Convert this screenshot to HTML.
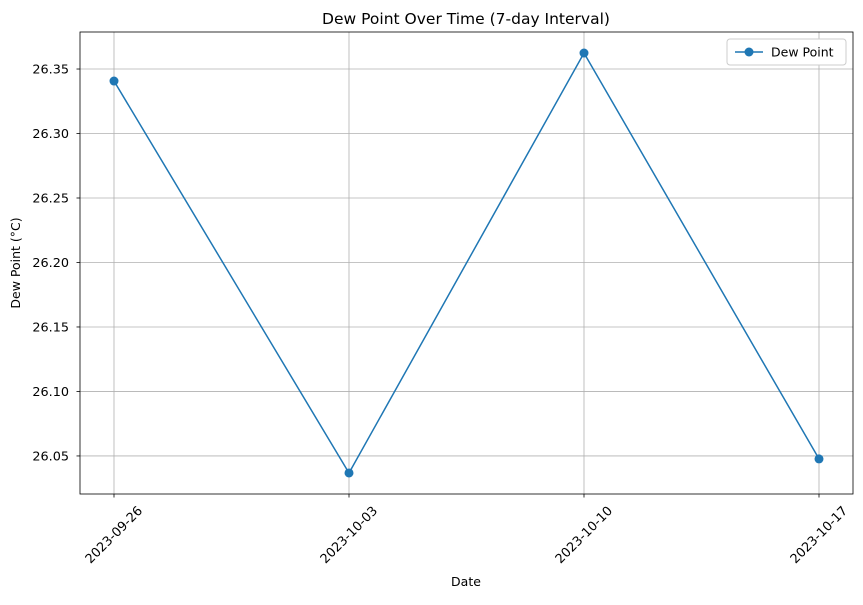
<!DOCTYPE html>
<html><head><meta charset="utf-8">
<style>
body{margin:0;background:#fff;}
svg text{font-family:"DejaVu Sans","Liberation Sans",sans-serif;fill:#000;}
</style></head>
<body>
<svg id="chart" width="863" height="600" viewBox="0 0 863 600" xmlns="http://www.w3.org/2000/svg">
<rect width="863" height="600" fill="#fff"/>
<text x="466" y="24" font-size="15.5" text-anchor="middle">Dew Point Over Time (7-day Interval)</text>
<g id="grid"></g>
<g id="axes"></g>
<g id="series"></g>
<text x="466" y="586" font-size="12.5" text-anchor="middle">Date</text>
<text transform="translate(20,263) rotate(-90)" font-size="12.5" text-anchor="middle">Dew Point (°C)</text>
<g>
<rect x="727" y="39" width="119" height="26" fill="#fff" stroke="#ccc" rx="3"/>
<line x1="735" y1="52" x2="763" y2="52" stroke="#1f77b4" stroke-width="1.5"/>
<circle cx="749" cy="52" r="4.5" fill="#1f77b4"/>
<text x="771" y="56.5" font-size="12.5">Dew Point</text>
</g>
</svg>
<script>
const categories=["2023-09-26","2023-10-03","2023-10-10","2023-10-17"];
const dewPoint=[26.3407,26.0368,26.3624,26.0477];
const yTicks=[26.05,26.10,26.15,26.20,26.25,26.30,26.35];
const L=80,R=853,T=32,B=494,yMin=26.0205,yMax=26.3787;
const x0=114,x1=819;
const NS="http://www.w3.org/2000/svg";
function xs(i){return x0+(x1-x0)*i/(categories.length-1);}
function ys(v){return B-(v-yMin)/(yMax-yMin)*(B-T);}
function mk(tag,attrs,parent){const e=document.createElementNS(NS,tag);for(const k in attrs)e.setAttribute(k,attrs[k]);parent.appendChild(e);return e;}
const grid=document.getElementById('grid'),axes=document.getElementById('axes'),series=document.getElementById('series');
yTicks.forEach(t=>{const y=ys(t);
const g=mk('line',{x1:L,x2:R,y1:y,y2:y,stroke:'#b0b0b0','stroke-width':0.8},grid);


mk('line',{x1:L-3.5,x2:L,y1:y,y2:y,stroke:'#000','stroke-width':0.8},axes);
const tx=mk('text',{x:L-11,y:y+4.5,'font-size':12.8,'text-anchor':'end'},axes);tx.textContent=t.toFixed(2);


});
categories.forEach((c,i)=>{const x=xs(i);
const g=mk('line',{x1:x,x2:x,y1:T,y2:B,stroke:'#b0b0b0','stroke-width':0.8},grid);


mk('line',{x1:x,x2:x,y1:B,y2:B+3.5,stroke:'#000','stroke-width':0.8},axes);
const cy=535;
const tx=mk('text',{x:x,y:cy+4,'font-size':12.8,'text-anchor':'middle',transform:`rotate(-45 ${x} ${cy})`},axes);tx.textContent=c;


});
const frame=mk('rect',{x:L,y:T,width:R-L,height:B-T,fill:'none',stroke:'#000','stroke-width':0.8},axes);


const line=mk('polyline',{points:dewPoint.map((v,i)=>xs(i)+','+ys(v)).join(' '),fill:'none',stroke:'#1f77b4','stroke-width':1.5},series);


dewPoint.forEach((v,i)=>{const c=mk('circle',{cx:xs(i),cy:ys(v),r:4.5,fill:'#1f77b4'},series);


});
</script>
</body></html>
